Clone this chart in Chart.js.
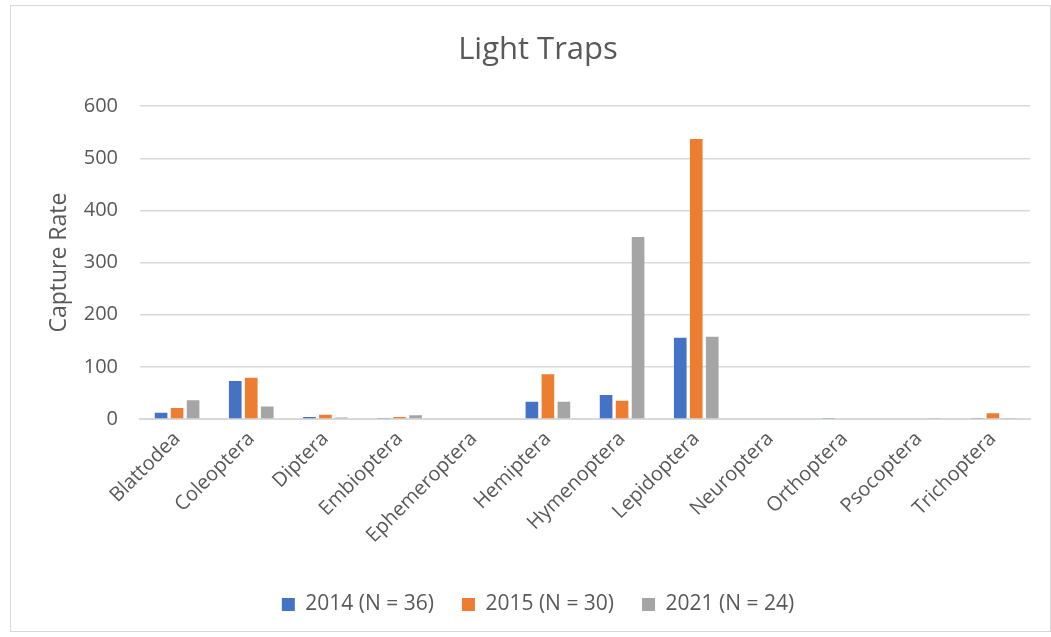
<!DOCTYPE html>
<html><head><meta charset="utf-8">
<script src="https://cdn.jsdelivr.net/npm/chart.js@4"></script>
<style>
html,body{margin:0;padding:0;background:#fff;overflow:hidden;}
#frame{position:absolute;left:10px;top:5px;width:1041px;height:627px;border:1px solid #d9d9d9;box-sizing:border-box;pointer-events:none;}
canvas{display:block;position:absolute;left:0;top:0;}
</style></head><body>
<canvas id="c" width="1051" height="637"></canvas>
<div id="frame"></div>
<script>
const categories = ["Blattodea","Coleoptera","Diptera","Embioptera","Ephemeroptera","Hemiptera","Hymenoptera","Lepidoptera","Neuroptera","Orthoptera","Psocoptera","Trichoptera"];
const s2014 = [12,73,4,1,0,33,46,156,0,2,0,1];
const s2015 = [21,79,8,4,0,86,35,537,0,0,0,11];
const s2021 = [36,24,3,7,0,33,349,158,0,0,1,2];
const seriesNames = ["2014 (N = 36)","2015 (N = 30)","2021 (N = 24)"];
const yTicks = [0,100,200,300,400,500,600];
const colors = ["#4472c4","#ed7d31","#a5a5a5"];
const font = "'Open Sans', sans-serif";
new Chart(document.getElementById('c'), {
  type:'bar',
  data:{labels:categories, datasets:[s2014,s2015,s2021].map((d,i)=>({label:seriesNames[i],data:d,backgroundColor:colors[i],categoryPercentage:0.647,barPercentage:0.79}))},
  options:{
    responsive:false, animation:false,
    layout:{padding:{left:46,right:21,top:0,bottom:12}},
    plugins:{
      title:{display:true,text:"Light Traps",color:"#595959",font:{family:font,size:31,weight:'normal'},padding:{top:32,bottom:37},align:'center'},
      legend:{position:'bottom',labels:{color:"#595959",font:{family:font,size:21},boxWidth:13,boxHeight:13,padding:28}},
      tooltip:{enabled:false}
    },
    scales:{
      x:{grid:{display:false,drawTicks:false},border:{color:"#d9d9d9",width:2},
         ticks:{color:"#595959",font:{family:font,size:20},minRotation:45,maxRotation:45,padding:8},
         afterFit:ax=>{ax.height=147;}},
      y:{min:0,max:600,afterBuildTicks:ax=>{ax.ticks=yTicks.map(v=>({value:v}));},
         grid:{color:"#d9d9d9",lineWidth:1.5,drawTicks:false},border:{display:false},
         ticks:{color:"#595959",font:{family:font,size:20},padding:22},
         title:{display:true,text:"Capture Rate",color:"#595959",font:{family:font,size:23},padding:{top:0,bottom:0}},
         afterFit:ax=>{ax.width=94;}}
    }
  }
});
</script></body></html>
